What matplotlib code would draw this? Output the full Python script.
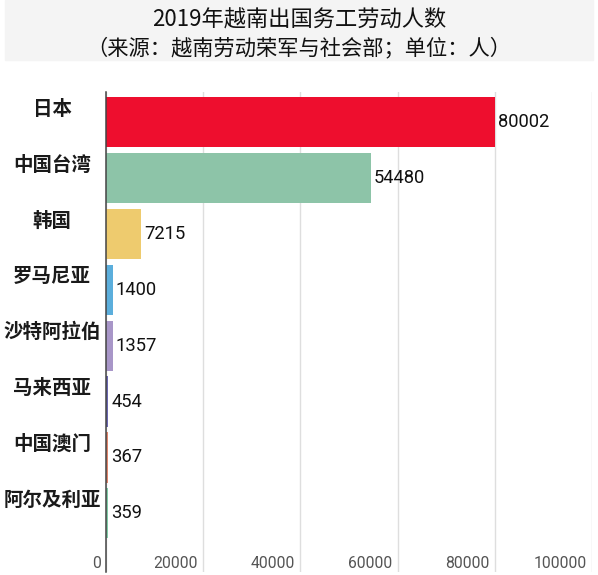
import matplotlib
matplotlib.use("Agg")
import matplotlib.pyplot as plt
import matplotlib.patches as mpatches
import matplotlib.transforms as mtransforms

plt.rcParams["font.family"] = ["Noto Sans CJK SC", "DejaVu Sans"]

# 数据
countries = ["日本", "中国台湾", "韩国", "罗马尼亚", "沙特阿拉伯", "马来西亚", "中国澳门", "阿尔及利亚"]
workers = [80002, 54480, 7215, 1400, 1357, 454, 367, 359]
colors = ["#EE0E2E", "#8DC4A8", "#EECB6E", "#5BAEDC", "#A896C8", "#6A66B0", "#E0846A", "#7FCBA6"]
xticks = [0, 20000, 40000, 60000, 80000, 100000]

W, H = 598, 575
fig = plt.figure(figsize=(W / 100, H / 100), dpi=100)

# 标题背景
fig.patches.append(mpatches.Rectangle((5 / W, 1 - 60 / H), (W - 10) / W, 60 / H,
                                      transform=fig.transFigure, color="#F4F4F4", zorder=0))
fig.text(0.5, 1 - 20 / H, "2019年越南出国务工劳动人数", ha="center", va="center",
         fontsize=16, color="#111111")
fig.text(0.5, 1 - 48 / H, "（来源：越南劳动荣军与社会部；单位：人）", ha="center", va="center",
         fontsize=15.3, color="#111111")

ax = fig.add_axes([106 / W, 1 - 572 / H, (592 - 106) / W, (572 - 92) / H])
ypos = list(range(len(countries)))
ax.barh(ypos, workers, height=0.9, color=colors, zorder=2)
ax.set_xlim(0, 100000)
ax.set_ylim(8.05, -0.54)

for s in ["top", "right", "bottom"]:
    ax.spines[s].set_visible(False)
ax.spines["left"].set_color("#444444")
ax.spines["left"].set_linewidth(1.1)
ax.spines["left"].set_zorder(3)

ax.set_yticks([])
ax.set_xticks(xticks)
ax.set_xticklabels([str(t) for t in xticks], fontsize=11.3, color="#555555", family="Roboto")
ax.tick_params(axis="x", length=0, pad=-11.5)
offset = mtransforms.ScaledTranslation(-5 / 100, 0, fig.dpi_scale_trans)
for lbl in ax.get_xticklabels():
    lbl.set_ha("right")
    lbl.set_transform(lbl.get_transform() + offset)
ax.grid(axis="x", color="#DEDEDE", linewidth=1, zorder=0)

# 类别标签与数值
for y, name, val in zip(ypos, countries, workers):
    ax.annotate(name, xy=(0, y), xycoords=("axes fraction", "data"),
                xytext=(-54, 13), textcoords="offset pixels",
                ha="center", va="center", fontsize=14, fontweight="bold", color="#1A1A1A")
    ax.annotate(str(val), xy=(val, y), xytext=(3, 0), textcoords="offset pixels",
                ha="left", va="center", fontsize=13.2, family="Roboto", color="#111111")

fig.savefig("out.png", dpi=100)
